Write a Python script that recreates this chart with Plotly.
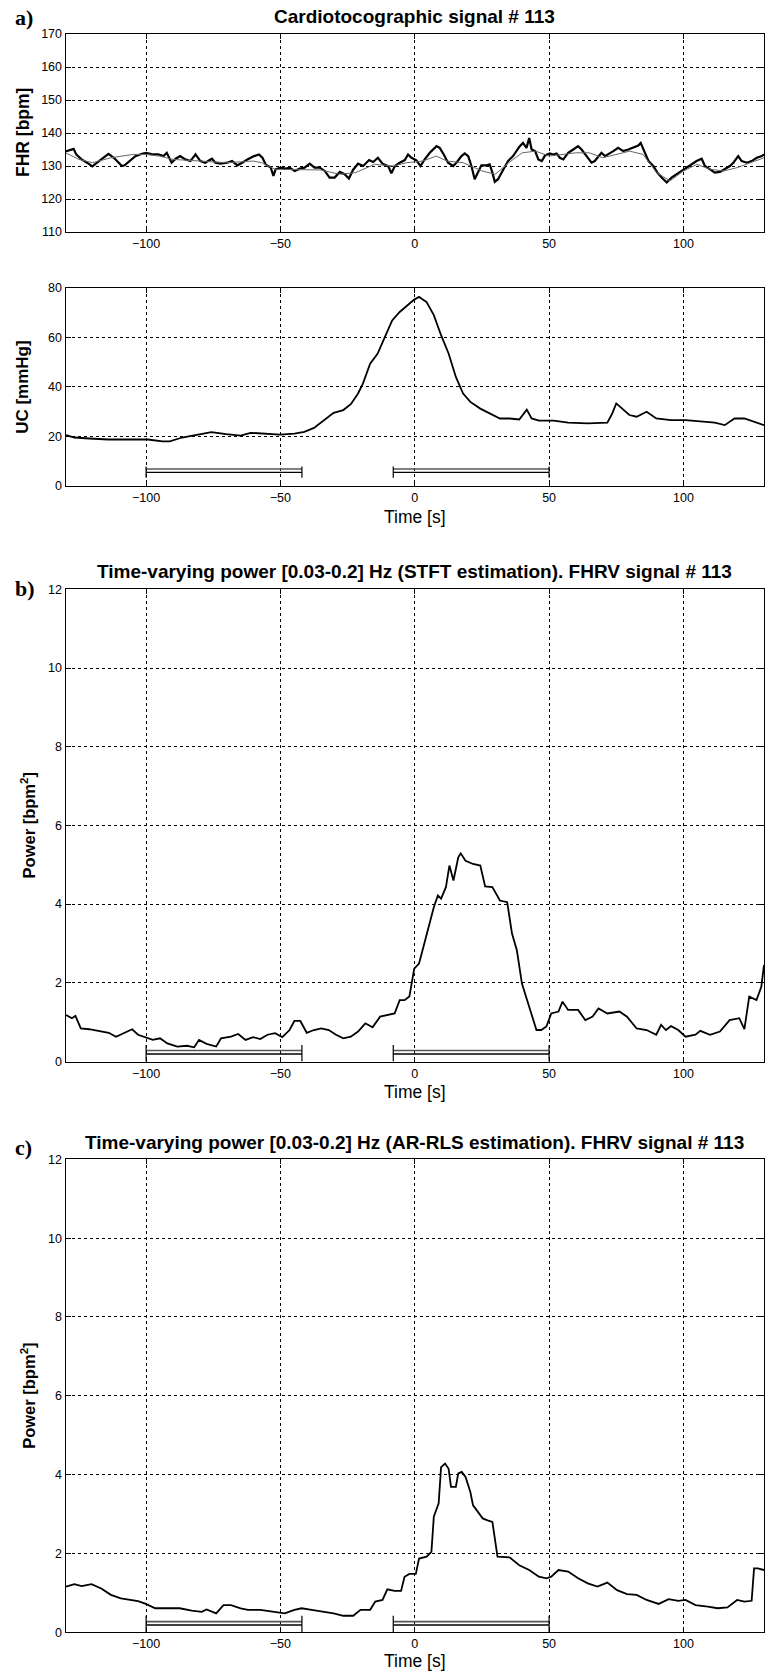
import plotly.graph_objects as go

# ---------------- data ----------------
fhr_t = [-130, -127, -126, -124, -122, -120, -118, -116.3, -114, -112, -110, -109, -108, -106, -104, -101.5,
         -100, -98, -95.5, -93.5, -92.3, -90.5, -89, -87.3, -85.4, -83.5, -81.6, -79.8, -78, -75.5, -74.2,
         -72.3, -69.8, -68, -66, -64.2, -62.3, -59.8, -58, -56.7, -55.5, -53.6, -52.6, -51.8, -50, -48,
         -46.6, -44.7, -42.8, -41, -39.1, -37.3, -35.4, -33.5, -31.7, -29.8, -27.9, -26.1, -24.5, -23, -21.1,
         -19.2, -17, -15.5, -13.7, -12, -9.9, -8.7, -7.4, -5.6, -3.7, -2.5, -1.2, 0.6, 2.1, 3.7, 5.6, 8.1,
         9.3, 10.8, 12.4, 14.3, 15.5, 17.4, 18.6, 19.9, 21.1, 22.3, 23.6, 24.8, 26.7, 27.9, 28.9, 29.8, 31,
         32.9, 34.7, 36.6, 39.1, 40.3, 41.6, 42.6, 43.5, 44.8, 46, 47.3, 48.5, 50.3, 51.5, 52.8, 54, 55.3,
         57.1, 59, 60.8, 62.1, 64, 65.8, 67, 68.3, 69.5, 70.8, 72, 73.9, 75.7, 77.6, 79.5, 81.4, 83.2, 84.1,
         85.1, 87, 88.8, 90.3, 91.9, 93.8, 95.6, 97.5, 99.3, 101.2, 103, 104.9, 106.8, 108, 109.9, 111.7,
         113.6, 115.5, 117.3, 118.6, 120.4, 121.7, 123.6, 125.4, 127.3, 129.2, 130]
fhr_raw = [134.4, 135.2, 133.5, 132, 131, 129.9, 131.2, 132.2, 133.7, 132.5, 131, 130, 130.2, 131.7, 133, 133.7,
           134, 133.6, 133.5, 133, 134, 131, 132.2, 133, 132, 131.5, 133.5, 131.5, 131, 132.2, 131,
           130.7, 131, 131.5, 130.2, 131, 132, 133, 133.5, 132.5, 130.5, 129.5, 127, 129, 129.5, 129.2,
           129.5, 128.5, 129.2, 129.5, 130.7, 129.5, 129.5, 128.5, 126.5, 126.5, 128.2, 127.5, 126.2, 128.8, 130.7,
           130, 131.8, 131.2, 132.5, 130.7, 130, 127.8, 130, 131, 131.8, 133.5, 132.5, 131.7, 130, 132, 134, 136,
           135.5, 133.5, 131, 130, 131, 133, 133.8, 133, 130, 126, 128, 130.2, 130.2, 130.5, 128, 125.2, 126,
           129, 131.5, 133, 136, 137, 135.5, 138.5, 135, 134.5, 132, 131.5, 133.2, 133.8, 133.5, 133.8, 132.5, 132,
           134, 135, 136, 135, 133, 131, 131.5, 133, 134, 133, 133.5, 134.5, 135.5, 134.5, 135, 135.5, 136.2, 137,
           135, 131.5, 130, 128, 126.5, 125, 126.5, 127.5, 128.5, 129.5, 130.5, 131.5, 132.2, 130, 129, 128,
           128.2, 129, 130, 131, 133, 131.5, 131, 131.5, 132.5, 133, 133.5]

fhr_base_t = [-130, -125, -120, -113, -105, -100, -95, -90, -80, -70, -60, -57, -52, -45, -35, -28, -22, -15,
              -8, -3, 3, 8, 12, 18, 25, 30, 35, 40, 45, 50, 60, 65, 70, 80, 85, 90, 95, 100, 105, 110, 115,
              120, 125, 130]
fhr_base = [134, 132, 131, 132.5, 133.5, 133.5, 133, 132, 131.5, 131, 131.5, 131, 129, 129, 128.8, 127.5, 128,
            130.5, 130, 131, 131.5, 133, 131.5, 131, 128.5, 127.5, 131, 134, 134.5, 133, 134, 134, 132.5, 134.5,
            133.5, 128, 125.5, 128.5, 130.5, 129, 128.5, 129.5, 131, 132.5]

uc_t = [-129.8, -126.7, -121.2, -114, -106.6, -99.4, -93.9, -91.2, -86.6, -81.2, -75.7, -70.2, -64.8, -61.1,
        -55.7, -50.2, -44.8, -41.1, -37.5, -33.8, -30.2, -26.6, -23.8, -21.1, -19.3, -16.6, -13.8, -11.1, -8.4,
        -5.6, -2.9, -0.2, 1.6, 4.4, 7.1, 9.8, 12.6, 15.3, 18, 20.7, 24.4, 28, 31.7, 35.3, 38.9, 41.7, 43.5,
        46.2, 51.7, 57.1, 64.4, 71.7, 73.5, 75, 77.2, 79.9, 82.6, 86.3, 89.9, 95.4, 100.8, 106.3, 111.7,
        115.4, 119, 122.7, 126.3, 130]
uc = [20.5, 19.5, 19.1, 18.7, 18.7, 18.7, 17.9, 17.9, 19.5, 20.7, 21.7, 20.9, 20.3, 21.4,
      21.1, 20.7, 21.1, 21.8, 23.4, 26.5, 29.5, 30.6, 33, 37.3, 41.3, 49.4, 53.5, 60.2, 66.9,
      70.3, 73, 75.3, 76.4, 74.3, 69, 60.9, 53.5, 44, 37.3, 33.9, 31.2, 29.2, 27.2, 27.2, 26.8, 30.8, 27.2,
      26.3, 26.3, 25.5, 25.2, 25.5, 29.2, 33.3, 31.2, 28.6, 27.9, 29.9, 27.2, 26.5, 26.5, 25.9, 25.5,
      24.5, 27.2, 27.2, 25.9, 24.5]

stft_t = [-129.8, -127.6, -126.3, -124.3, -121.2, -117.6, -113.9, -111.2, -108.5, -105.2, -103, -100.1, -97.5,
          -94.8, -92.1, -88.4, -84.8, -82.1, -80.3, -77.5, -73.9, -72.1, -68.4, -65.7, -63, -60.2, -57.5,
          -54.8, -52, -49.3, -46.6, -44.8, -42.6, -40.2, -37.5, -34.8, -32, -29.3, -26.6, -23.8, -21.1,
          -18.4, -15.7, -12.9, -10.2, -7.5, -5.6, -3.8, -2, -0.2, 1.6, 3.5, 5.3, 7.1, 8.6, 9.8, 11.6, 12.9,
          14.4, 16.2, 17.1, 18.9, 21.7, 24.4, 26.2, 28.9, 31.7, 34.4, 36.2, 38, 39.9, 42.6, 45.3, 47.1, 49,
          50.8, 53.5, 55, 57.1, 60.8, 63.5, 66.2, 68.4, 71.7, 76.2, 79, 82.6, 86.3, 89.9, 91.7, 93.5, 95.4,
          98.1, 100.8, 104.5, 106.3, 109.9, 113.6, 117.2, 120.8, 122.7, 124.5, 127.2, 129, 130]
stft = [1.18, 1.10, 1.16, 0.84, 0.82, 0.78, 0.73, 0.63, 0.72, 0.82, 0.68, 0.62, 0.55,
        0.59, 0.46, 0.38, 0.40, 0.36, 0.55, 0.45, 0.38, 0.59, 0.63, 0.70, 0.55, 0.62, 0.57,
        0.68, 0.72, 0.62, 0.80, 1.03, 1.03, 0.73, 0.80, 0.84, 0.80, 0.68, 0.59, 0.63, 0.76,
        0.97, 0.87, 1.14, 1.18, 1.22, 1.56, 1.56, 1.65, 2.36, 2.49, 3.0, 3.5, 3.92, 4.22, 4.14, 4.43, 4.98,
        4.6, 5.19, 5.29, 5.1, 5.02, 4.98, 4.45, 4.43, 4.09, 4.05, 3.25, 2.83, 1.98, 1.39, 0.80, 0.80, 0.89,
        1.22, 1.27, 1.52, 1.31, 1.31, 1.05, 1.14, 1.35, 1.22, 1.27, 1.14, 0.84, 0.80, 0.68, 0.93, 0.80, 0.90,
        0.80, 0.63, 0.68, 0.78, 0.68, 0.76, 1.05, 1.10, 0.82, 1.65, 1.56, 1.9, 2.45]

arrls_t = [-129.8, -126.7, -124, -120.3, -116.7, -113.1, -109.4, -105.8, -103, -100.1, -96.6, -92.1, -87.5,
           -83, -79.3, -77.5, -73.9, -71.2, -68.4, -64.8, -62.1, -57.5, -53, -48.4, -44.8, -42.1, -38.4,
           -33.8, -30.2, -26.6, -22.9, -20.2, -16.6, -14.7, -12, -10.2, -7.5, -5.1, -3.8, -2, 0.4, 1.6, 4.4,
           6.2, 7.1, 8.9, 9.8, 11.3, 12.6, 13.5, 15.3, 16.2, 17.5, 18.9, 20.7, 21.7, 23.5, 25.3, 27.1, 28.9,
           30.8, 35.3, 38.9, 42.6, 46.2, 49, 50.8, 53.5, 57.1, 60.8, 64.4, 68, 71.7, 75.3, 79, 82.6, 86.3,
           90.8, 94.5, 98.1, 100.8, 104.5, 109.1, 112.7, 116.4, 120, 122.7, 125.4, 126.3, 127.7, 130]
arrls = [1.16, 1.22, 1.17, 1.22, 1.11, 0.95, 0.86, 0.82, 0.79, 0.72, 0.61, 0.61, 0.61,
         0.55, 0.52, 0.58, 0.48, 0.69, 0.69, 0.61, 0.57, 0.57, 0.52, 0.48, 0.57, 0.61, 0.57,
         0.52, 0.48, 0.42, 0.42, 0.57, 0.57, 0.78, 0.82, 1.09, 1.05, 1.05, 1.41, 1.48, 1.48, 1.87, 1.92,
         2.04, 2.93, 3.27, 4.19, 4.28, 4.15, 3.69, 3.69, 4.03, 4.07, 3.94, 3.56, 3.22, 3.05, 2.89, 2.84, 2.80,
         1.92, 1.90, 1.70, 1.58, 1.41, 1.37, 1.41, 1.58, 1.54, 1.37, 1.24, 1.16, 1.26, 1.07, 0.97, 0.95, 0.82,
         0.72, 0.84, 0.80, 0.82, 0.69, 0.65, 0.61, 0.63, 0.82, 0.78, 0.80, 1.62, 1.62, 1.58]

# analysis windows (start, end) in seconds
window_start = [-100, -8]
window_end = [-42, 50]

x_ticks = [-100, -50, 0, 50, 100]
fhr_ticks = [110, 120, 130, 140, 150, 160, 170]
uc_ticks = [0, 20, 40, 60, 80]
pow_ticks = [0, 2, 4, 6, 8, 10, 12]

titles = ["Cardiotocographic signal # 113",
          "Time-varying power [0.03-0.2] Hz (STFT estimation). FHRV signal # 113",
          "Time-varying power [0.03-0.2] Hz (AR-RLS estimation). FHRV signal # 113"]
ylabels = ["FHR [bpm]", "UC [mmHg]", "Power [bpm<sup>2</sup>]", "Power [bpm<sup>2</sup>]"]

# ---------------- figure ----------------
W, H = 768, 1672
def py(px):
    return 1 - px / H

XDOM = [65.5 / W, 764 / W]
panels = [  # (top px, bottom px)
    (34, 232), (288, 485.7), (589.3, 1061.5), (1159.3, 1632.3)]

SANS = "Liberation Sans, Arial, sans-serif"
fig = go.Figure()

def add_line(x, y, i, color="black", width=1.8):
    fig.add_trace(go.Scatter(x=x, y=y, mode="lines", line=dict(color=color, width=width),
                             xaxis="x" if i == 1 else f"x{i}", yaxis="y" if i == 1 else f"y{i}",
                             showlegend=False, hoverinfo="skip"))

add_line(fhr_t, fhr_raw, 1, "black", 2.2)
add_line(fhr_base_t, fhr_base, 1, "#666666", 1.0)
add_line(uc_t, uc, 2)
add_line(stft_t, stft, 3)
add_line(arrls_t, arrls, 4)

# analysis window markers (double line with end caps)
bar_levels = {2: (6.75, 5.4, 7.8, 3.2), 3: (0.28, 0.19, 0.42, 0.0), 4: (0.27, 0.185, 0.42, 0.0)}
for i, (yt, yb, ct, cb) in bar_levels.items():
    for s, e in zip(window_start, window_end):
        add_line([s, e], [yt, yt], i, "#555555", 1.6)
        add_line([s, e], [yb, yb], i, "black", 1.3)
        add_line([s, s], [ct, cb], i, "black", 1.2)
        add_line([e, e], [ct, cb], i, "black", 1.2)

layout = dict(width=W, height=H, margin=dict(l=0, r=0, t=0, b=0, autoexpand=False),
              paper_bgcolor="white", plot_bgcolor="white", showlegend=False,
              font=dict(family=SANS, size=12, color="black"))

yranges = [(110, 170, fhr_ticks), (0, 80, uc_ticks), (0, 12, pow_ticks), (0, 12, pow_ticks)]
for i, ((top, bot), (y0, y1, yt)) in enumerate(zip(panels, yranges), start=1):
    xa = "xaxis" if i == 1 else f"xaxis{i}"
    ya = "yaxis" if i == 1 else f"yaxis{i}"
    common = dict(showline=True, linecolor="black", linewidth=1, mirror="ticks",
                  ticks="inside", ticklen=5, tickcolor="black", tickwidth=1,
                  showgrid=True, gridcolor="black", gridwidth=1, griddash="dot",
                  zeroline=False, automargin=False,
                  tickfont=dict(family=SANS, size=12.5, color="black"))
    layout[xa] = dict(domain=XDOM, range=[-130, 130], tickvals=x_ticks,
                      anchor="y" if i == 1 else f"y{i}", **common)
    layout[ya] = dict(domain=[py(bot), py(top)], range=[y0, y1], tickvals=yt,
                      anchor="x" if i == 1 else f"x{i}", **common)

fig.update_layout(**layout)

ann = []
# panel titles
for txt, yc in zip(titles, [16, 572, 1142]):
    ann.append(dict(text=f"<b>{txt}</b>", x=0.5 * (XDOM[0] + XDOM[1]), y=py(yc), xref="paper", yref="paper",
                    xanchor="center", yanchor="middle", showarrow=False,
                    font=dict(family=SANS, size=19, color="black")))
# panel letters
for txt, yc in zip(["a)", "b)", "c)"], [18, 588, 1147]):
    ann.append(dict(text=f"<b>{txt}</b>", x=13 / W, y=py(yc), xref="paper", yref="paper",
                    xanchor="left", yanchor="middle", showarrow=False,
                    font=dict(family="Liberation Serif, Times New Roman, serif", size=22, color="black")))
# y-axis titles
for txt, xc, fs, (top, bot) in zip(ylabels, [23, 23, 28, 28], [17.5, 17, 16.5, 16.5], panels):
    ann.append(dict(text=f"<b>{txt}</b>", x=xc / W, y=py((top + bot) / 2), xref="paper", yref="paper",
                    xanchor="center", yanchor="middle", textangle=-90, showarrow=False,
                    font=dict(family=SANS, size=fs, color="black")))
# x-axis titles
for yc in [517, 1092, 1661]:
    ann.append(dict(text="Time [s]", x=0.5 * (XDOM[0] + XDOM[1]), y=py(yc), xref="paper", yref="paper",
                    xanchor="center", yanchor="middle", showarrow=False,
                    font=dict(family=SANS, size=17.5, color="black")))
fig.update_layout(annotations=ann)

fig.write_html("out.html", config={"displayModeBar": False},
               post_script="document.body.style.margin='0';")
